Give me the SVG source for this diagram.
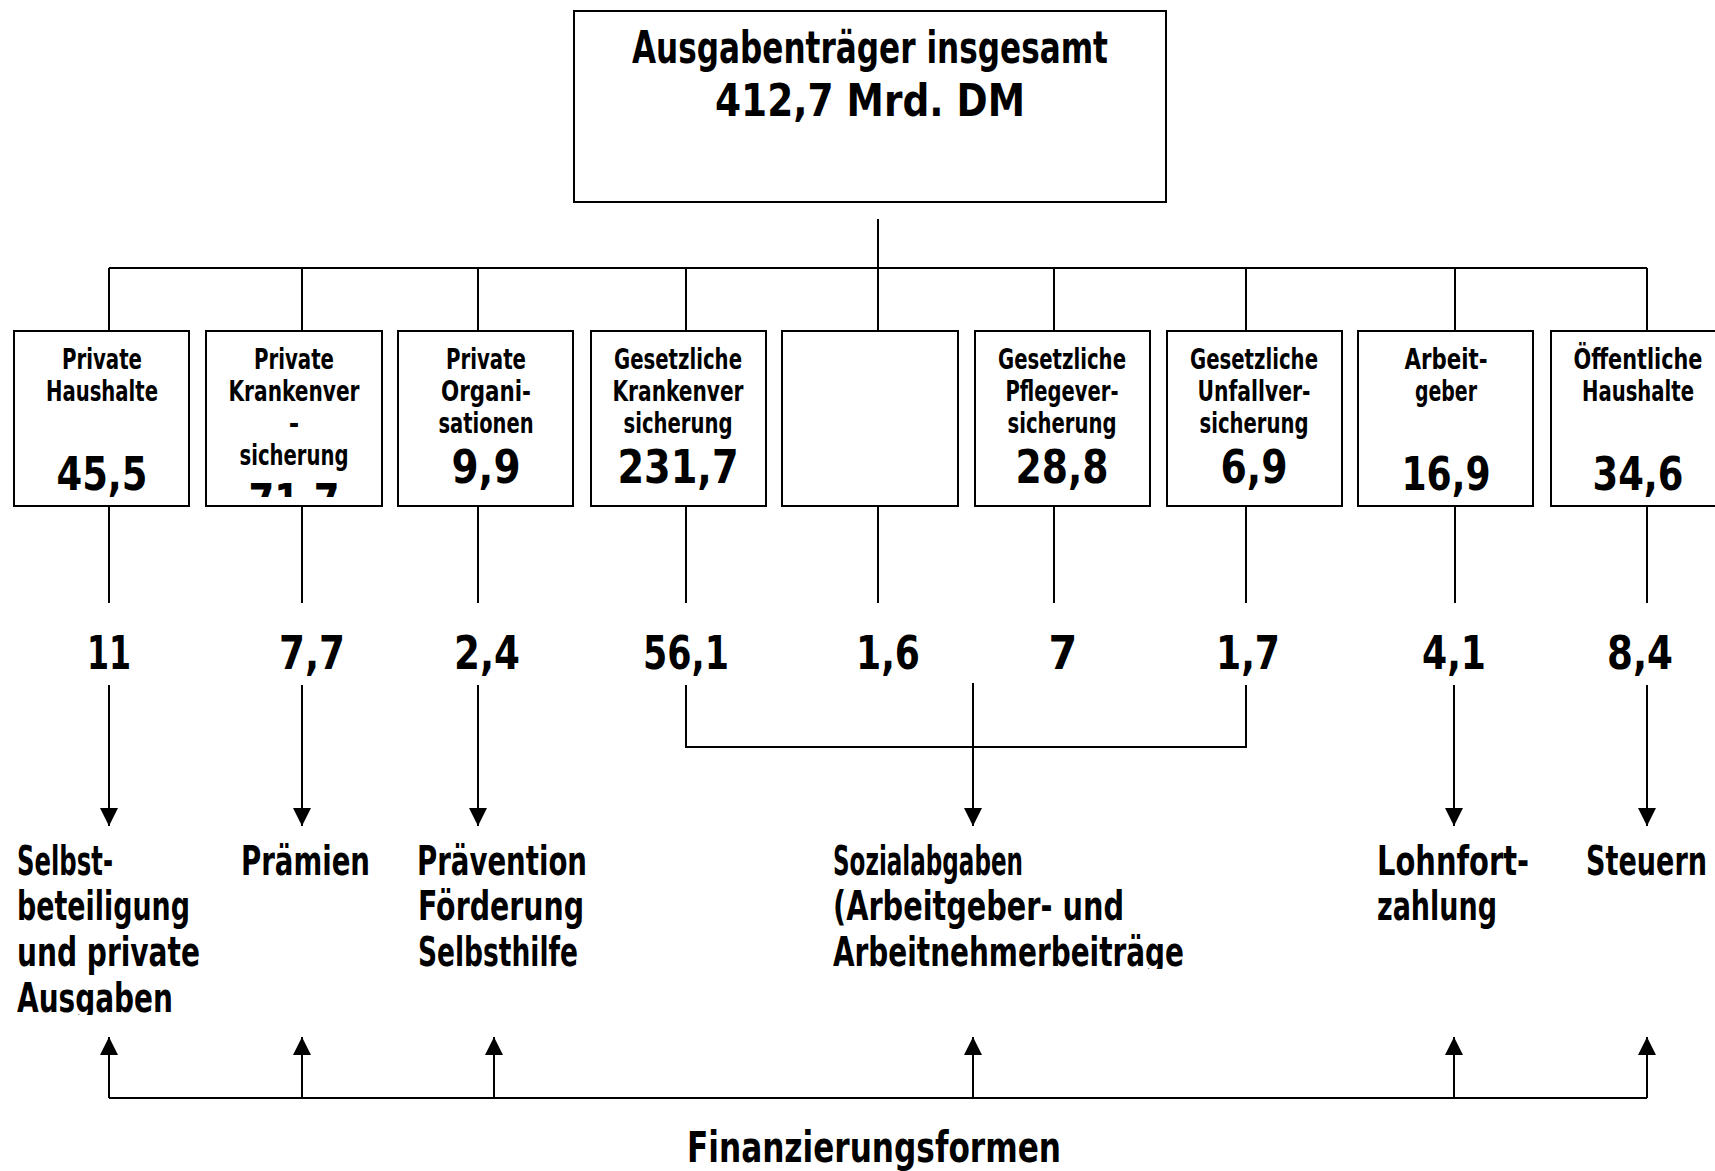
<svg xmlns="http://www.w3.org/2000/svg" width="1715" height="1171" viewBox="0 0 1715 1171">
<style>
.box{fill:#fff;stroke:#000;stroke-width:2}
.ln{stroke:#000;stroke-width:2;fill:none}
text{font-family:"Liberation Sans Narrow","DejaVu Sans Condensed","Liberation Sans",sans-serif;font-weight:bold;fill:#000}
.t{font-size:45px;text-anchor:middle}
.s{font-size:28px;text-anchor:middle}
.n{font-size:46px;text-anchor:middle}
.l{font-size:41px}
</style>
<defs>
<marker id="ah" viewBox="0 0 18 18" refX="18" refY="9" markerWidth="18" markerHeight="18" markerUnits="userSpaceOnUse" orient="auto">
<path d="M0,0 L18,9 L0,18 z" fill="#000"/>
</marker>
<clipPath id="c2"><rect x="206" y="331" width="176" height="166"/></clipPath>
<clipPath id="cL"><rect x="0" y="780" width="230" height="235"/></clipPath>
<clipPath id="cS"><rect x="800" y="780" width="450" height="189"/></clipPath>
</defs>
<rect width="1715" height="1171" fill="#fff"/>

<g id="connectors">
<line class="ln" x1="878" y1="219" x2="878" y2="268"/>
<line class="ln" x1="109" y1="268" x2="1647" y2="268"/>
<line class="ln" x1="109" y1="268" x2="109" y2="331"/>
<line class="ln" x1="302" y1="268" x2="302" y2="331"/>
<line class="ln" x1="478" y1="268" x2="478" y2="331"/>
<line class="ln" x1="686" y1="268" x2="686" y2="331"/>
<line class="ln" x1="878" y1="268" x2="878" y2="331"/>
<line class="ln" x1="1054" y1="268" x2="1054" y2="331"/>
<line class="ln" x1="1246" y1="268" x2="1246" y2="331"/>
<line class="ln" x1="1455" y1="268" x2="1455" y2="331"/>
<line class="ln" x1="1647" y1="268" x2="1647" y2="331"/>
<line class="ln" x1="109" y1="506" x2="109" y2="603"/>
<line class="ln" x1="302" y1="506" x2="302" y2="603"/>
<line class="ln" x1="478" y1="506" x2="478" y2="603"/>
<line class="ln" x1="686" y1="506" x2="686" y2="603"/>
<line class="ln" x1="878" y1="506" x2="878" y2="603"/>
<line class="ln" x1="1054" y1="506" x2="1054" y2="603"/>
<line class="ln" x1="1246" y1="506" x2="1246" y2="603"/>
<line class="ln" x1="1455" y1="506" x2="1455" y2="603"/>
<line class="ln" x1="1647" y1="506" x2="1647" y2="603"/>
<line class="ln" x1="109" y1="685" x2="109" y2="826" marker-end="url(#ah)"/>
<line class="ln" x1="302" y1="685" x2="302" y2="826" marker-end="url(#ah)"/>
<line class="ln" x1="478" y1="685" x2="478" y2="826" marker-end="url(#ah)"/>
<line class="ln" x1="973" y1="683" x2="973" y2="826" marker-end="url(#ah)"/>
<line class="ln" x1="1454" y1="685" x2="1454" y2="826" marker-end="url(#ah)"/>
<line class="ln" x1="1647" y1="685" x2="1647" y2="826" marker-end="url(#ah)"/>
<polyline class="ln" points="686,685 686,747 1246,747 1246,685"/>
<line class="ln" x1="109" y1="1098" x2="1647" y2="1098"/>
<line class="ln" x1="109" y1="1098" x2="109" y2="1037" marker-end="url(#ah)"/>
<line class="ln" x1="302" y1="1098" x2="302" y2="1037" marker-end="url(#ah)"/>
<line class="ln" x1="494" y1="1098" x2="494" y2="1037" marker-end="url(#ah)"/>
<line class="ln" x1="973" y1="1098" x2="973" y2="1037" marker-end="url(#ah)"/>
<line class="ln" x1="1454" y1="1098" x2="1454" y2="1037" marker-end="url(#ah)"/>
<line class="ln" x1="1647" y1="1098" x2="1647" y2="1037" marker-end="url(#ah)"/>
</g>

<g id="top">
<rect class="box" x="574" y="11" width="592" height="191"/>
<text class="t" x="870" y="63" textLength="476" lengthAdjust="spacingAndGlyphs">Ausgabenträger insgesamt</text>
<text class="t" x="870" y="116" textLength="310" lengthAdjust="spacingAndGlyphs">412,7 Mrd. DM</text>
</g>

<g id="n1">
<rect class="box" x="14" y="331" width="175" height="175"/>
<text class="s" x="102" y="369" textLength="80" lengthAdjust="spacingAndGlyphs">Private</text>
<text class="s" x="102" y="401" textLength="112" lengthAdjust="spacingAndGlyphs">Haushalte</text>
<text class="n" x="102" y="490" textLength="91" lengthAdjust="spacingAndGlyphs">45,5</text>
</g>
<g id="n2">
<rect class="box" x="206" y="331" width="176" height="175"/>
<g clip-path="url(#c2)">
<text class="s" x="294" y="369" textLength="80" lengthAdjust="spacingAndGlyphs">Private</text>
<text class="s" x="294" y="401" textLength="131" lengthAdjust="spacingAndGlyphs">Krankenver</text>
<text class="s" x="294" y="433">-</text>
<text class="s" x="294" y="465" textLength="109" lengthAdjust="spacingAndGlyphs">sicherung</text>
<text class="n" x="294" y="517" textLength="91" lengthAdjust="spacingAndGlyphs">71,7</text>
</g>
</g>
<g id="n3">
<rect class="box" x="398" y="331" width="175" height="175"/>
<text class="s" x="486" y="369" textLength="80" lengthAdjust="spacingAndGlyphs">Private</text>
<text class="s" x="486" y="401" textLength="90" lengthAdjust="spacingAndGlyphs">Organi-</text>
<text class="s" x="486" y="433" textLength="95" lengthAdjust="spacingAndGlyphs">sationen</text>
<text class="n" x="486" y="483" textLength="69" lengthAdjust="spacingAndGlyphs">9,9</text>
</g>
<g id="n4">
<rect class="box" x="591" y="331" width="175" height="175"/>
<text class="s" x="678" y="369" textLength="128" lengthAdjust="spacingAndGlyphs">Gesetzliche</text>
<text class="s" x="678" y="401" textLength="131" lengthAdjust="spacingAndGlyphs">Krankenver</text>
<text class="s" x="678" y="433" textLength="109" lengthAdjust="spacingAndGlyphs">sicherung</text>
<text class="n" x="678" y="483" textLength="121" lengthAdjust="spacingAndGlyphs">231,7</text>
</g>
<g id="n5">
<rect class="box" x="782" y="331" width="176" height="175"/>
</g>
<g id="n6">
<rect class="box" x="975" y="331" width="175" height="175"/>
<text class="s" x="1062" y="369" textLength="128" lengthAdjust="spacingAndGlyphs">Gesetzliche</text>
<text class="s" x="1062" y="401" textLength="113" lengthAdjust="spacingAndGlyphs">Pflegever-</text>
<text class="s" x="1062" y="433" textLength="109" lengthAdjust="spacingAndGlyphs">sicherung</text>
<text class="n" x="1062" y="483" textLength="93" lengthAdjust="spacingAndGlyphs">28,8</text>
</g>
<g id="n7">
<rect class="box" x="1167" y="331" width="175" height="175"/>
<text class="s" x="1254" y="369" textLength="128" lengthAdjust="spacingAndGlyphs">Gesetzliche</text>
<text class="s" x="1254" y="401" textLength="113" lengthAdjust="spacingAndGlyphs">Unfallver-</text>
<text class="s" x="1254" y="433" textLength="109" lengthAdjust="spacingAndGlyphs">sicherung</text>
<text class="n" x="1254" y="483" textLength="67" lengthAdjust="spacingAndGlyphs">6,9</text>
</g>
<g id="n8">
<rect class="box" x="1358" y="331" width="175" height="175"/>
<text class="s" x="1446" y="369" textLength="83" lengthAdjust="spacingAndGlyphs">Arbeit-</text>
<text class="s" x="1446" y="401" textLength="62" lengthAdjust="spacingAndGlyphs">geber</text>
<text class="n" x="1446" y="490" textLength="89" lengthAdjust="spacingAndGlyphs">16,9</text>
</g>
<g id="n9">
<rect class="box" x="1551" y="331" width="175" height="175"/>
<text class="s" x="1638" y="369" textLength="129" lengthAdjust="spacingAndGlyphs">Öffentliche</text>
<text class="s" x="1638" y="401" textLength="112" lengthAdjust="spacingAndGlyphs">Haushalte</text>
<text class="n" x="1638" y="490" textLength="91" lengthAdjust="spacingAndGlyphs">34,6</text>
</g>

<g id="values">
<text class="n" x="109" y="669" textLength="44" lengthAdjust="spacingAndGlyphs">11</text>
<text class="n" x="312" y="669" textLength="66" lengthAdjust="spacingAndGlyphs">7,7</text>
<text class="n" x="487" y="669" textLength="66" lengthAdjust="spacingAndGlyphs">2,4</text>
<text class="n" x="686" y="669" textLength="86" lengthAdjust="spacingAndGlyphs">56,1</text>
<text class="n" x="888" y="669" textLength="64" lengthAdjust="spacingAndGlyphs">1,6</text>
<text class="n" x="1063" y="669">7</text>
<text class="n" x="1248" y="669" textLength="64" lengthAdjust="spacingAndGlyphs">1,7</text>
<text class="n" x="1454" y="669" textLength="64" lengthAdjust="spacingAndGlyphs">4,1</text>
<text class="n" x="1640" y="669" textLength="66" lengthAdjust="spacingAndGlyphs">8,4</text>
</g>

<g id="f1" clip-path="url(#cL)">
<text class="l" x="17" y="875" textLength="96" lengthAdjust="spacingAndGlyphs">Selbst-</text>
<text class="l" x="17" y="920" textLength="173" lengthAdjust="spacingAndGlyphs">beteiligung</text>
<text class="l" x="17" y="966" textLength="183" lengthAdjust="spacingAndGlyphs">und private</text>
<text class="l" x="17" y="1012" textLength="156" lengthAdjust="spacingAndGlyphs">Ausgaben</text>
</g>
<g id="f2">
<text class="l" x="241" y="875" textLength="129" lengthAdjust="spacingAndGlyphs">Prämien</text>
</g>
<g id="f3">
<text class="l" x="417" y="875" textLength="170" lengthAdjust="spacingAndGlyphs">Prävention</text>
<text class="l" x="418" y="920" textLength="166" lengthAdjust="spacingAndGlyphs">Förderung</text>
<text class="l" x="418" y="966" textLength="160" lengthAdjust="spacingAndGlyphs">Selbsthilfe</text>
</g>
<g id="f4" clip-path="url(#cS)">
<text class="l" x="833" y="875" textLength="190" lengthAdjust="spacingAndGlyphs">Sozialabgaben</text>
<text class="l" x="833" y="920" textLength="291" lengthAdjust="spacingAndGlyphs">(Arbeitgeber- und</text>
<text class="l" x="833" y="966" textLength="351" lengthAdjust="spacingAndGlyphs">Arbeitnehmerbeiträge</text>
</g>
<g id="f5">
<text class="l" x="1377" y="875" textLength="152" lengthAdjust="spacingAndGlyphs">Lohnfort-</text>
<text class="l" x="1377" y="920" textLength="120" lengthAdjust="spacingAndGlyphs">zahlung</text>
</g>
<g id="f6">
<text class="l" x="1586" y="875" textLength="121" lengthAdjust="spacingAndGlyphs">Steuern</text>
</g>
<g id="footer">
<text class="t" x="874" y="1162" style="font-size:43px" textLength="374" lengthAdjust="spacingAndGlyphs">Finanzierungsformen</text>
</g>
</svg>
